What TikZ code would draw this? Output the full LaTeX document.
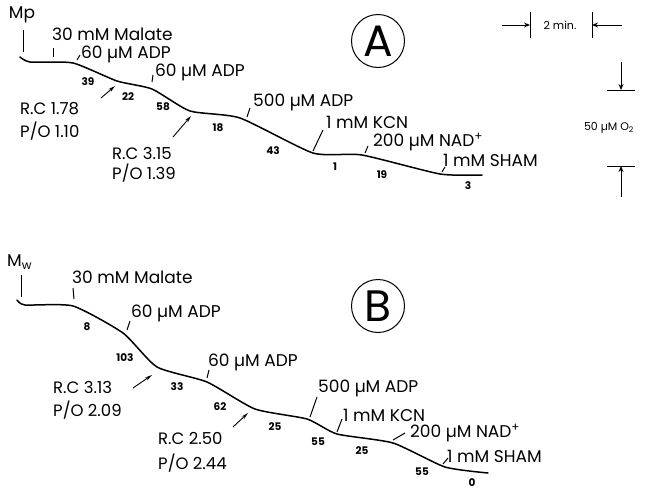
\documentclass[tikz,border=0pt]{standalone}
\usepackage{fontspec}
\setmainfont{Poppins}
\usetikzlibrary{arrows.meta}
\begin{document}
\begin{tikzpicture}[x=1pt,y=-1pt,
 lab/.style={anchor=west,inner sep=0pt,font=\fontsize{17}{17}\selectfont},
 rc/.style={anchor=west,inner sep=0pt,font=\fontsize{16.5}{16.5}\selectfont},
 num/.style={inner sep=0pt,font=\bfseries\fontsize{10.5}{10.5}\selectfont},
 small/.style={inner sep=0pt,font=\fontsize{11}{11}\selectfont},
 trace/.style={line width=1.5pt,line join=round,line cap=round},
 tk/.style={line width=1pt},
 ptr/.style={line width=0.9pt,-{Stealth[length=7pt,width=3.5pt]}},
 bar/.style={line width=1pt,-{Stealth[length=6pt,width=5pt]}},
 big/.style={circle,draw,line width=1pt,minimum size=53pt,inner sep=0pt,font=\fontsize{44}{44}\selectfont}]
\useasboundingbox (0,0) rectangle (646,493);

% ---------- Panel A ----------
\node[lab,anchor=center] (mp) at (22,15) {Mp};
\draw[tk] (23,30) -- (23,52);
\draw[trace] plot[smooth,tension=0.35] coordinates {(20,57) (30,62) (73,63) (117,81) (152,89) (190,111) (240,118) (313,153) (362,155) (440,174) (482,175)};
\node[big] (circA) at (378,41) {A};

\node[lab] (malA) at (52,34) {30 mM Malate};
\draw[tk] (53,48) -- (53,57);
\node[lab] (adpA1) at (81,54) {60 µM ADP};
\draw[tk] (77,60) -- (80,55);
\node[lab] (adpA2) at (155,72) {60 µM ADP};
\draw[tk] (152,82) -- (153,75);
\node[lab] (adpA3) at (253,102) {500 µM ADP};
\draw[tk] (247,117) -- (250,108);
\node[lab] (kcnA) at (326,122) {1 mM KCN};
\draw[tk] (313,151) -- (323,130);
\node[lab] (nadA) at (373,142) {200 µM NAD\textsuperscript{+}};
\draw[tk] (365,153) -- (368,146);
\node[lab] (shamA) at (443,160) {1 mM SHAM};
\draw[tk] (442,172) -- (445,167);

\node[num] (a39) at (88,82) {39};
\node[num] (a22) at (128,97) {22};
\node[num] (a58) at (163,107) {58};
\node[num] (a18) at (218,128) {18};
\node[num] (a43) at (273,151) {43};
\node[num] (a1) at (335,167) {1};
\node[num] (a19) at (382,175) {19};
\node[num] (a3) at (468,186) {3};

\node[rc] (rcA1) at (20,109) {R.C 1.78};
\node[rc] (poA1) at (20,131) {P/O 1.10};
\coordinate (pa1s) at (101,98);
\coordinate (pa1e) at (115,86);
\draw[ptr] (pa1s) -- (pa1e);
\node[rc] (rcA2) at (112,153) {R.C 3.15};
\node[rc] (poA2) at (112,173) {P/O 1.39};
\coordinate (pa2s) at (173,137);
\coordinate (pa2e) at (191,116);
\draw[ptr] (pa2s) -- (pa2e);

% ---------- scale bars ----------
\coordinate (h1) at (502,25);
\coordinate (h2) at (530,25);
\coordinate (h3) at (592,25);
\coordinate (h4) at (622,25);
\draw[bar] (h1) -- (h2);
\draw[bar] (h4) -- (h3);
\draw[tk] (530,12) -- (530,38);
\draw[tk] (592,12) -- (592,38);
\node[small] (tmin) at (560,25) {2 min.};
\coordinate (v1) at (621,62);
\coordinate (v2) at (621,90);
\coordinate (v3) at (621,166);
\coordinate (v4) at (621,197);
\draw[bar] (v1) -- (v2);
\draw[bar] (v4) -- (v3);
\draw[tk] (607,90) -- (635,90);
\draw[tk] (607,166) -- (635,166);
\node[small] (oxy) at (609,128) {50 µM O\textsubscript{2}};

% ---------- Panel B ----------
\node[lab] (mw) at (7,262) {M\textsubscript{w}};
\draw[tk] (21,275) -- (21,297);
\draw[trace] plot[smooth,tension=0.35] coordinates {(17,300) (25,305) (73,306) (123,333) (157,367) (207,382) (255,409) (307,419) (337,434) (393,443) (445,467) (488,473)};
\node[big] (circB) at (378,306) {B};

\node[lab] (malB) at (72,277) {30 mM Malate};
\draw[tk] (73,288) -- (74,299);
\node[lab] (adpB1) at (131,313) {60 µM ADP};
\draw[tk] (127,330) -- (130,321);
\node[lab] (adpB2) at (208,362) {60 µM ADP};
\draw[tk] (207,378) -- (209,370);
\node[lab] (adpB3) at (318,388) {500 µM ADP};
\draw[tk] (310,417) -- (317,397);
\node[lab] (kcnB) at (343,415) {1 mM KCN};
\draw[tk] (337,432) -- (342,419);
\node[lab] (nadB) at (410,433) {200 µM NAD\textsuperscript{+}};
\draw[tk] (393,440) -- (405,433);
\node[lab] (shamB) at (447,456) {1 mM SHAM};
\draw[tk] (443,464) -- (448,458);

\node[num] (b8) at (87,327) {8};
\node[num] (b103) at (125,358) {103};
\node[num] (b33) at (177,387) {33};
\node[num] (b62) at (220,407) {62};
\node[num] (b25a) at (275,427) {25};
\node[num] (b55a) at (318,442) {55};
\node[num] (b25b) at (362,451) {25};
\node[num] (b55b) at (422,472) {55};
\node[num] (b0) at (472,483) {0};

\node[rc] (rcB1) at (53,387) {R.C 3.13};
\node[rc] (poB1) at (53,410) {P/O 2.09};
\coordinate (pb1s) at (133,388);
\coordinate (pb1e) at (152,375);
\draw[ptr] (pb1s) -- (pb1e);
\node[rc] (rcB2) at (158,438) {R.C 2.50};
\node[rc] (poB2) at (158,463) {P/O 2.44};
\coordinate (pb2s) at (233,427);
\coordinate (pb2e) at (248,413);
\draw[ptr] (pb2s) -- (pb2e);
\end{tikzpicture}
\end{document}
